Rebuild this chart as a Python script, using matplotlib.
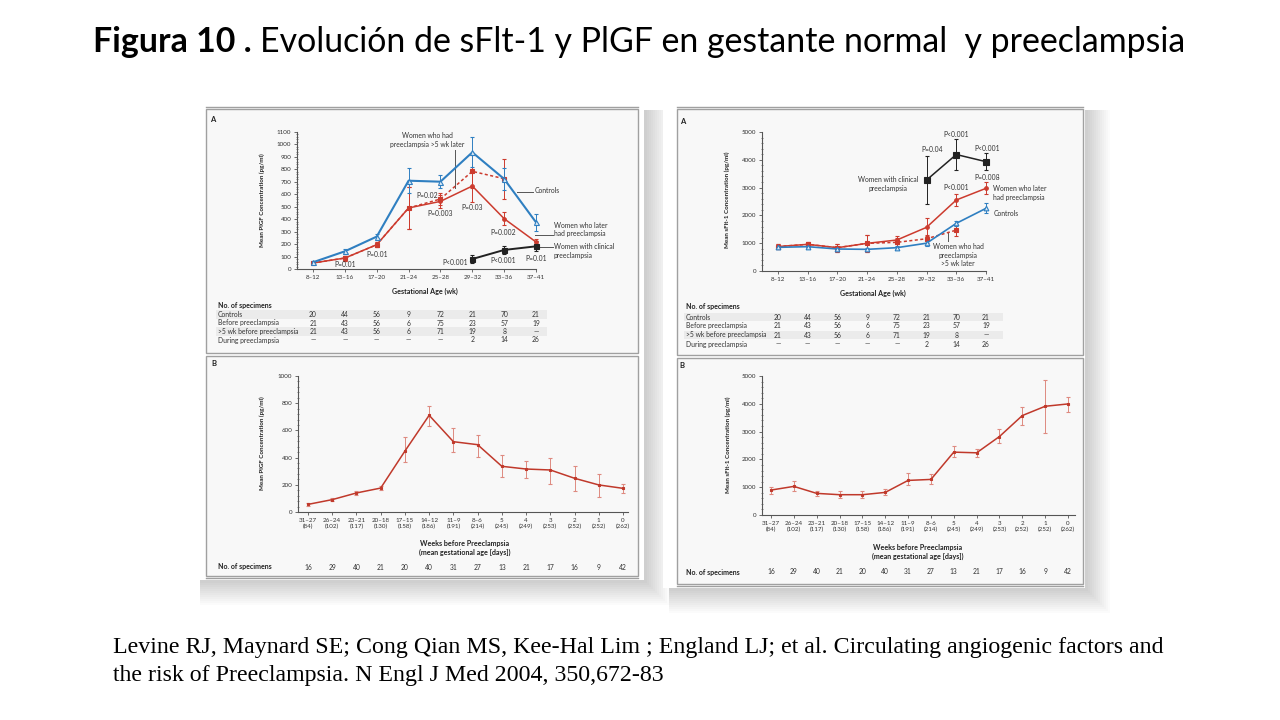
import numpy as np
import matplotlib.pyplot as plt
from matplotlib.patches import Rectangle
from matplotlib.lines import Line2D
from matplotlib.transforms import blended_transform_factory
from matplotlib.ticker import MultipleLocator

W, H = 1280, 720

# --- data ---
ga_weeks = ['8–12', '13–16', '17–20', '21–24', '25–28', '29–32', '33–36', '37–41']
wk_before = ['31–27', '26–24', '23–21', '20–18', '17–15', '14–12', '11–9', '8–6',
             '5', '4', '3', '2', '1', '0']
mean_ga_days = [84, 102, 117, 130, 158, 186, 191, 214, 245, 249, 253, 252, 252, 262]
n_before = [16, 29, 40, 21, 20, 40, 31, 27, 13, 21, 17, 16, 9, 42]

spec_labels = ['Controls', 'Before preeclampsia', '>5 wk before preeclampsia',
               'During preeclampsia']
spec_controls = ['20', '44', '56', '9', '72', '21', '70', '21']
spec_before = ['21', '43', '56', '6', '75', '23', '57', '19']
spec_5wk = ['21', '43', '56', '6', '71', '19', '8', '—']
spec_during = ['—', '—', '—', '—', '—', '2', '14', '26']

# PlGF by gestational age (pg/ml)
plgf_ctrl = [54, 142, 260, 709, 701, 937, 723, 375]
plgf_ctrl_err = [10, 20, 25, 100, 50, 120, 85, 70]
plgf_pe = [48, 88, 195, 490, 543, 666, 404, 217]
plgf_pe_err = [8, 20, 20, 165, 50, 130, 50, 20]
plgf_5wk = [48, 88, 195, 490, 562, 784, 725]
plgf_5wk_err = [8, 20, 20, 165, 50, 130, 160]
plgf_clin = [80, 153, 182]
plgf_clin_err = [35, 30, 40]

# sFlt-1 by gestational age (pg/ml)
sflt_ctrl = [851, 875, 791, 779, 839, 1000, 1714, 2254]
sflt_ctrl_err = [60, 60, 60, 60, 60, 90, 100, 180]
sflt_pe = [880, 959, 839, 995, 1115, 1571, 2554, 2974]
sflt_pe_err = [100, 100, 150, 300, 160, 320, 210, 215]
sflt_5wk = [880, 959, 839, 995, 1031, 1160, 1470]
sflt_5wk_err = [100, 100, 150, 300, 150, 150, 200]
sflt_clin = [3273, 4190, 3933]
sflt_clin_err = [870, 550, 300]

# weeks before preeclampsia
plgf_b = [56, 91, 140, 176, 448, 711, 517, 495, 336, 316, 309, 248, 199, 174]
plgf_b_lo = [46, 80, 122, 160, 371, 630, 439, 404, 255, 250, 208, 152, 110, 140]
plgf_b_hi = [66, 102, 158, 192, 551, 782, 615, 568, 419, 377, 399, 340, 282, 205]
sflt_b = [897, 1029, 778, 730, 730, 813, 1244, 1280, 2261, 2237, 2823, 3577, 3911, 3995]
sflt_b_lo = [766, 861, 682, 610, 610, 706, 1089, 1124, 2069, 2093, 2584, 3242, 2943, 3708]
sflt_b_hi = [1017, 1208, 861, 861, 861, 921, 1507, 1459, 2476, 2392, 3098, 3888, 4856, 4246]

BLUE = '#2f7fc1'
RED = '#cc3b2e'
DRED = '#c0392b'
ERR = '#de8a80'
GRAY = '#555555'
FONT = 'Lato'

plt.rcParams['font.family'] = [FONT, 'DejaVu Sans']

fig = plt.figure(figsize=(12.8, 7.2), dpi=100)
fig.patch.set_facecolor('white')


def rect(x0, y0, x1, y1, **kw):
    r = Rectangle((x0 / W, 1 - y1 / H), (x1 - x0) / W, (y1 - y0) / H,
                  transform=fig.transFigure, **kw)
    fig.add_artist(r)


def hline(x0, x1, y, **kw):
    fig.add_artist(Line2D([x0 / W, x1 / W], [1 - y / H, 1 - y / H],
                          transform=fig.transFigure, **kw))


def ftext(x, y, s, **kw):
    kw.setdefault('fontsize', 4.9)
    kw.setdefault('color', '#333333')
    fig.text(x / W, 1 - y / H, s, **kw)


# --- the two pasted images: shadow, white sheet, panel frames ---
def sheet(x0, y0, x1, y1, split, frame_l, frame_r, frame_b):
    for i in range(12):
        p = i * 2.0
        rect(x0 + 6, y0 + 6, x1 + 3 + p, y1 + 3 + p,
             facecolor='black', edgecolor='none', alpha=0.014, zorder=0)
    rect(x0, y0, x1, y1, facecolor='white', edgecolor='none', zorder=0.5)
    for top, bot in [(y0 + 5, split), (split + 3, frame_b)]:
        rect(frame_l, top, frame_r, bot, facecolor='#f8f8f8', edgecolor='#a0a0a0',
             linewidth=1.0, zorder=0.6)
    hline(frame_l, frame_r, y0 + 3, color='#a0a0a0', lw=1.0, zorder=0.6)
    hline(frame_l, frame_r, frame_b + 2, color='#a0a0a0', lw=1.0, zorder=0.6)


sheet(194, 104, 644, 580, 353, 206, 638, 576)
sheet(663, 104, 1085, 588, 355, 677, 1083, 584)


def make_axes(spine_x, end_x, first_px, last_px, n, base_y, top_y, ymax, major, minor):
    step = (last_px - first_px) / (n - 1)
    ax = fig.add_axes([spine_x / W, 1 - base_y / H, (end_x - spine_x) / W,
                       (base_y - top_y) / H])
    ax.set_xlim(-(first_px - spine_x) / step, (end_x - first_px) / step)
    ax.set_ylim(0, ymax)
    ax.patch.set_alpha(0)
    for s in ['top', 'right']:
        ax.spines[s].set_visible(False)
    for s in ['left', 'bottom']:
        ax.spines[s].set_color(GRAY)
        ax.spines[s].set_linewidth(0.8)
    ax.yaxis.set_major_locator(MultipleLocator(major))
    ax.yaxis.set_minor_locator(MultipleLocator(minor))
    ax.set_xticks(range(n))
    ax.tick_params(axis='both', which='major', length=2.5, width=0.6, color=GRAY,
                   labelsize=4.5, labelcolor='#333333', pad=1.5)
    ax.tick_params(axis='y', which='minor', length=1.3, width=0.5, color=GRAY,
                   direction='inout')
    ax.set_zorder(2)
    return ax


def eb(ax, x, y, err, color, marker, ms, ls='-', mfc=None, lw=1.4, ecolor=None):
    ax.errorbar(x, y, yerr=err, color=color, marker=marker, markersize=ms,
                linestyle=ls, linewidth=lw, mfc=mfc if mfc else color, mec=color,
                mew=0.8, ecolor=ecolor if ecolor else color, elinewidth=0.7,
                capsize=1.6, capthick=0.9, clip_on=False, zorder=3)


def specimen_table(ax, lab_x, head_y, row_ys, shade_x1):
    tr = blended_transform_factory(ax.transData, fig.transFigure)
    ftext(lab_x, head_y, 'No. of specimens', weight='bold', fontsize=5.0,
          va='center', color='#222222')
    rows = [spec_controls, spec_before, spec_5wk, spec_during]
    for k, (lab, vals, y) in enumerate(zip(spec_labels, rows, row_ys)):
        if k % 2 == 0:
            rect(lab_x - 2, y - 4.2, shade_x1, y + 4.2, facecolor='#ebebeb',
                 edgecolor='none', zorder=0.7)
        ftext(lab_x, y, lab, va='center')
        for i, v in enumerate(vals):
            ax.text(i, 1 - y / H, v, transform=tr, ha='center', va='center',
                    fontsize=4.9, color='#333333')


# ================= left panel A : PlGF =================
axA = make_axes(297, 536, 313, 536, 8, 269, 132, 1100, 100, 20)
x8 = np.arange(8)
axA.set_xticklabels(ga_weeks)
eb(axA, x8[:7], plgf_5wk, plgf_5wk_err, RED, 's', 2.6, ls=(0, (2, 1.6)), lw=1.1)
eb(axA, x8, plgf_pe, plgf_pe_err, RED, 'o', 2.6, lw=1.1)
eb(axA, x8, plgf_ctrl, plgf_ctrl_err, BLUE, '^', 3.6, mfc='#dbe9f5', lw=1.5)
eb(axA, x8[5:], plgf_clin, plgf_clin_err, '#222222', 's', 3.6, lw=1.4)

for s, xi, yv in [('P=0.01', 1.0, 40), ('P=0.01', 2.0, 120), ('P=0.02', 3.58, 594),
                  ('P=0.003', 4.0, 442), ('P=0.03', 5.0, 490), ('P=0.002', 5.96, 297),
                  ('P<0.001', 4.46, 56), ('P<0.001', 5.96, 72), ('P=0.01', 7.0, 88)]:
    axA.text(xi, yv, s, ha='center', va='center', fontsize=4.9, color='#333333',
             zorder=5)
axA.text(3.58, 1036, 'Women who had\npreeclampsia >5 wk later', ha='center',
         va='center', fontsize=4.9, color='#333333', linespacing=1.3)
axA.plot([4.46, 4.46], [651, 956], color=GRAY, lw=0.7, clip_on=False)
axA.text(6.97, 627, 'Controls', va='center', fontsize=4.9, color='#333333')
axA.plot([6.4, 6.92], [620, 620], color=GRAY, lw=0.7, clip_on=False)
axA.text(7.56, 317, 'Women who later\nhad preeclampsia', va='center', fontsize=4.9,
         color='#333333', linespacing=1.3)
axA.plot([6.97, 7.53], [273, 273], color=GRAY, lw=0.7, clip_on=False)
axA.text(7.56, 145, 'Women with clinical\npreeclampsia', va='center', fontsize=4.9,
         color='#333333', linespacing=1.3)
axA.plot([7.05, 7.53], [177, 177], color=GRAY, lw=0.7, clip_on=False)

ftext(210, 120, 'A', weight='bold', fontsize=5.5, va='center', color='#222222')
ftext(262, 200, 'Mean PlGF Concentration (pg/ml)', weight='bold', fontsize=4.5,
      rotation=90, ha='center', va='center', color='#222222')
ftext(425, 291, 'Gestational Age (wk)', weight='bold', fontsize=5.1, ha='center',
      va='center', color='#222222')
specimen_table(axA, 218, 305, [314.5, 323, 331.5, 340], 547)

# ================= right panel A : sFlt-1 =================
axC = make_axes(762, 986, 778, 986, 8, 271, 132, 5000, 1000, 200)
axC.set_xticklabels(ga_weeks)
eb(axC, x8[:7], sflt_5wk, sflt_5wk_err, RED, 's', 2.6, ls=(0, (2, 1.6)), lw=1.1)
eb(axC, x8, sflt_pe, sflt_pe_err, RED, 'o', 2.6, lw=1.1)
eb(axC, x8, sflt_ctrl, sflt_ctrl_err, BLUE, '^', 3.4, mfc='#dbe9f5', lw=1.2)
eb(axC, x8[5:], sflt_clin, sflt_clin_err, '#222222', 's', 3.8, lw=1.1)

for s, xi, yv in [('P=0.04', 5.2, 4388), ('P<0.001', 6.0, 4928),
                  ('P<0.001', 7.04, 4424), ('P=0.008', 7.04, 3381),
                  ('P<0.001', 6.0, 2986)]:
    axC.text(xi, yv, s, ha='center', va='center', fontsize=4.9, color='#333333')
axC.text(3.7, 3130, 'Women with clinical\npreeclampsia', ha='center', va='center',
         fontsize=4.9, color='#333333', linespacing=1.3)
axC.text(7.24, 2806, 'Women who later\nhad preeclampsia', va='center', fontsize=4.9,
         color='#333333', linespacing=1.3)
axC.text(7.24, 2086, 'Controls', va='center', fontsize=4.9, color='#333333')
axC.text(6.06, 575, 'Women who had\npreeclampsia\n>5 wk later', ha='center',
         va='center', fontsize=4.9, color='#333333', linespacing=1.3)
axC.plot([5.72, 5.72], [1079, 1403], color=GRAY, lw=0.7, clip_on=False)

ftext(680, 122, 'A', weight='bold', fontsize=5.5, va='center', color='#222222')
ftext(727, 200, 'Mean sFlt-1 Concentration (pg/ml)', weight='bold', fontsize=4.5,
      rotation=90, ha='center', va='center', color='#222222')
ftext(873, 293, 'Gestational Age (wk)', weight='bold', fontsize=5.1, ha='center',
      va='center', color='#222222')
specimen_table(axC, 686, 307, [317, 326, 335, 344], 1003)

# ================= panels B =================
x14 = np.arange(14)
b_labels = [f'{w}\n({d})' for w, d in zip(wk_before, mean_ga_days)]


def panel_b(ax, vals, lo, hi, lab_x, head_y, ylabel, ylab_x, ylab_y, xl_x, xl_y, b_y):
    ax.set_xticklabels(b_labels, linespacing=1.25)
    err = [np.array(vals) - np.array(lo), np.array(hi) - np.array(vals)]
    eb(ax, x14, vals, err, DRED, 's', 2.0, lw=1.1, ecolor=ERR)
    tr = blended_transform_factory(ax.transData, fig.transFigure)
    ftext(lab_x, head_y, 'No. of specimens', weight='bold', fontsize=5.0,
          va='center', color='#222222')
    for i, n in enumerate(n_before):
        ax.text(i, 1 - head_y / H, str(n), transform=tr, ha='center', va='center',
                fontsize=4.9, color='#333333')
    ftext(ylab_x, ylab_y, ylabel, weight='bold', fontsize=4.5, rotation=90,
          ha='center', va='center', color='#222222')
    ftext(xl_x, xl_y, 'Weeks before Preeclampsia\n(mean gestational age [days])',
          weight='bold', fontsize=5.1, ha='center', va='center', color='#222222',
          linespacing=1.35)
    ftext(lab_x - 7, b_y, 'B', weight='bold', fontsize=5.5, va='center',
          color='#222222')


axB = make_axes(298, 628, 308, 623, 14, 512, 376, 1000, 200, 40)
panel_b(axB, plgf_b, plgf_b_lo, plgf_b_hi, 218, 567,
        'Mean PlGF Concentration (pg/ml)', 262, 443, 465, 548, 363)

axD = make_axes(762, 1075, 771, 1068, 14, 515, 376, 5000, 1000, 200)
panel_b(axD, sflt_b, sflt_b_lo, sflt_b_hi, 686, 572,
        'Mean sFlt-1 Concentration (pg/ml)', 728, 445, 918, 552, 366)

# ================= slide title and reference =================
t1 = fig.text(93 / W, 1 - 42 / H, 'Figura 10 .', fontsize=24.4, weight='bold',
              family=FONT, va='center', color='black')
fig.canvas.draw()
bb = t1.get_window_extent(fig.canvas.get_renderer())
fig.text(bb.x1 / W + 8 / W, 1 - 42 / H,
         'Evolución de sFlt-1 y PlGF en gestante normal  y preeclampsia',
         fontsize=24.4, family=FONT, va='center', color='black')

ref_font = ['Liberation Serif', 'DejaVu Serif']
fig.text(113 / W, 1 - 647 / H,
         'Levine RJ, Maynard SE; Cong Qian MS, Kee-Hal Lim ; England LJ; et al. '
         'Circulating angiogenic factors and', fontsize=17.2, family=ref_font,
         va='center', color='black')
fig.text(113 / W, 1 - 675 / H,
         'the risk of Preeclampsia. N Engl J Med 2004, 350,672-83', fontsize=17.2,
         family=ref_font, va='center', color='black')

fig.savefig('out.png', dpi=100, facecolor='white')
